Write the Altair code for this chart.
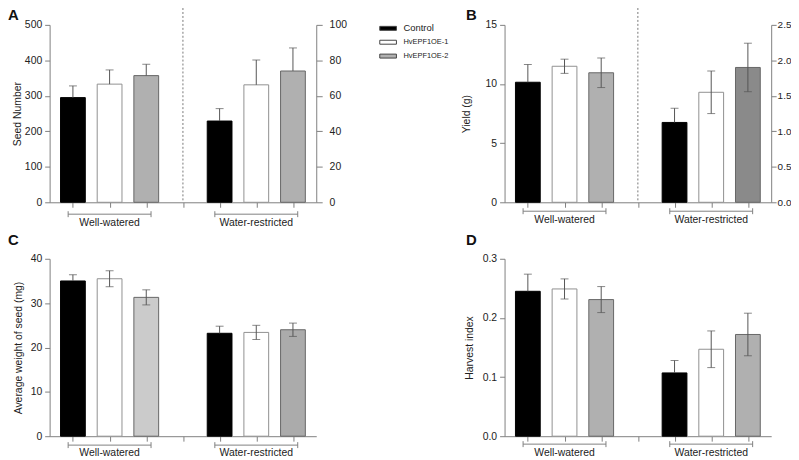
import altair as alt
import pandas as pd

# ---------------- data ----------------
groups = ["Control", "HvEPF1OE-1", "HvEPF1OE-2"]
conditions = ["Well-watered", "Water-restricted"]

seed_mean = [295, 333, 357, 229, 331, 370]
seed_err = [33, 40, 32, 35, 70, 65]
yield_mean = [10.15, 11.5, 10.95, 6.75, 9.3, 11.4]
yield_err = [1.5, 0.6, 1.25, 1.2, 1.8, 2.05]
weight_mean = [35.0, 35.5, 31.3, 23.2, 23.4, 24.0]
weight_err = [1.4, 1.8, 1.7, 1.6, 1.6, 1.5]
hi_mean = [0.245, 0.249, 0.231, 0.107, 0.147, 0.172]
hi_err = [0.029, 0.017, 0.022, 0.021, 0.031, 0.036]

seed_ticks = [0, 100, 200, 300, 400, 500]
seed_right_ticks = [0, 20, 40, 60, 80, 100]
yield_ticks = [0, 5, 10, 15]
yield_right_ticks = [0.0, 0.5, 1.0, 1.5, 2.0, 2.5]
weight_ticks = [0, 10, 20, 30, 40]
hi_ticks = [0.0, 0.1, 0.2, 0.3]

# ---------------- style ----------------
FONT = "Liberation Sans"
W, H = 269, 179
AX = "#808080"
EC = "#555555"
TXT = "#222222"
fills_A = ["#000000", "#ffffff", "#b0b0b0", "#000000", "#ffffff", "#b0b0b0"]
fills_B = ["#000000", "#ffffff", "#b0b0b0", "#000000", "#ffffff", "#8a8a8a"]
fills_C = ["#000000", "#ffffff", "#cbcbcb", "#000000", "#ffffff", "#ababab"]
fills_D = ["#000000", "#ffffff", "#b0b0b0", "#000000", "#ffffff", "#b0b0b0"]
strokes = ["#000000", "#909090", "#666666", "#000000", "#909090", "#666666"]

n_g = len(groups)
n_slots = len(conditions) * (n_g + 1) - 1
slot_centers = [i + 0.5 for i in range(n_slots)]


def make_df(mean, err, fills, both):
    rows = []
    for ci, c in enumerate(conditions):
        for gi, g in enumerate(groups):
            i = ci * n_g + gi
            m, e = mean[i], err[i]
            rows.append(dict(group=g, condition=c, pos=ci * (n_g + 1) + gi + 0.5,
                             mean=m, hi=m + e,
                             lo=(m - e) if (both and g != "Control") else m,
                             fill=fills[i], stroke=strokes[i]))
    return pd.DataFrame(rows)


def panel(mean, err, fills, ytitle, ticks, fmt, letter, lx, ly, tpad, both,
          sep, bdy, tdy, right_ticks=None, right_fmt=None, rtick=5, rpad=3,
          rsize=10.5, legend=False):
    df = make_df(mean, err, fills, both)
    xs = alt.Scale(domain=[0, n_slots], nice=False, zero=False)
    ys = alt.Scale(domain=[0, ticks[-1]], nice=False)
    xaxis = alt.Axis(values=slot_centers, labels=False, title=None, grid=False,
                     tickSize=5, domainColor=AX, tickColor=AX)
    yaxis = alt.Axis(values=ticks, format=fmt, title=ytitle, grid=False,
                     tickSize=5, labelPadding=3, titlePadding=tpad,
                     domainColor=AX, tickColor=AX, labelColor=TXT,
                     labelFont=FONT, labelFontSize=10.5, titleFont=FONT,
                     titleFontSize=10.5, titleFontWeight="normal", titleColor=TXT)

    def X(f):
        return alt.X(f, scale=xs, axis=xaxis)

    def Y(f):
        return alt.Y(f, scale=ys, axis=yaxis)

    base = alt.Chart(df)
    if legend:
        fill = alt.Fill("group:N", scale=alt.Scale(domain=groups, range=fills[:n_g]),
                        legend=alt.Legend(orient="none", legendX=337, legendY=-1,
                                          title=None,
                                          symbolType="M-2.1,-0.5H2.1V0.5H-2.1Z",
                                          symbolSize=64, symbolStrokeColor="#444",
                                          symbolStrokeWidth=1, labelFont=FONT,
                                          labelFontSize=alt.ExprRef("datum.label == 'Control' ? 9.5 : 7.5"),
                                          labelOffset=11, rowPadding=5, padding=0,
                                          labelColor=TXT))
    else:
        fill = alt.Fill("fill:N", scale=None)
    bars = base.mark_bar(width=25, strokeWidth=1).encode(
        x=X("pos:Q"), y=Y("mean:Q"), fill=fill,
        stroke=alt.Stroke("stroke:N", scale=None),
    )
    rule = base.mark_rule(color=EC, strokeWidth=1).encode(
        x=X("pos:Q"), y=Y("lo:Q"), y2="hi:Q")
    cap_hi = base.mark_tick(orient="horizontal", size=8, thickness=1, color=EC).encode(
        x=X("pos:Q"), y=Y("hi:Q"))
    layers = [bars, rule, cap_hi]
    if both:
        cap_lo = base.transform_filter("datum.lo < datum.mean").mark_tick(
            orient="horizontal", size=8, thickness=1, color=EC).encode(
            x=X("pos:Q"), y=Y("lo:Q"))
        layers.append(cap_lo)

    # group brackets
    brows = []
    for ci, c in enumerate(conditions):
        ctr = ci * (n_g + 1) + (n_g - 1) / 2 + 0.5
        brows.append(dict(condition=c, c=ctr, x1=ctr - 1.13, x2=ctr + 1.13))
    bdf = alt.Chart(pd.DataFrame(brows))
    layers.append(bdf.mark_rule(color=AX).encode(
        x=X("x1:Q"), x2="x2:Q", y=alt.value(H + bdy)))
    layers.append(bdf.mark_rule(color=AX).encode(
        x=X("x1:Q"), y=alt.value(H + bdy - 3), y2=alt.value(H + bdy + 3)))
    layers.append(bdf.mark_rule(color=AX).encode(
        x=X("x2:Q"), y=alt.value(H + bdy - 3), y2=alt.value(H + bdy + 3)))
    layers.append(bdf.mark_text(font=FONT, fontSize=10.5, baseline="middle",
                                color=TXT).encode(
        x=X("c:Q"), y=alt.value(H + tdy), text="condition:N"))
    if sep:
        sdf = pd.DataFrame({"s": [n_g + 0.5]})
        layers.append(alt.Chart(sdf).mark_rule(color="#777", strokeDash=[2, 2],
                                               strokeWidth=1).encode(
            x=X("s:Q"), y=alt.value(-17), y2=alt.value(H)))
    layers.append(alt.Chart(pd.DataFrame({"t": [letter]})).mark_text(
        font=FONT, fontSize=15, fontWeight="bold", align="left",
        baseline="alphabetic", color="#111").encode(
        text="t:N", x=alt.value(lx), y=alt.value(ly)))

    inner = alt.layer(*layers)
    if right_ticks is not None:
        right = alt.Chart(pd.DataFrame({"r": right_ticks})).mark_point(opacity=0).encode(
            y=alt.Y("r:Q", scale=alt.Scale(domain=[0, right_ticks[-1]], nice=False),
                    axis=alt.Axis(orient="right", values=right_ticks, format=right_fmt,
                                  title=None, grid=False, tickSize=rtick,
                                  labelPadding=rpad, domainColor=AX, tickColor=AX,
                                  labelColor=TXT, labelFont=FONT, labelFontSize=rsize)))
        ch = alt.layer(inner, right).resolve_scale(y="independent")
    else:
        ch = inner
    return ch.properties(width=W, height=H)


A = panel(seed_mean, seed_err, fills_A, "Seed Number", seed_ticks, "d", "A",
          -42, -5, 2, False, True, 12, 21, seed_right_ticks, "d", 6, 7, legend=True)
B = panel(yield_mean, yield_err, fills_B, "Yield (g)", yield_ticks, "d", "B",
          -39, -5, 14, True, True, 9, 18, yield_right_ticks, ".1f", 5, 1, rsize=10)
C = panel(weight_mean, weight_err, fills_C, "Average weight of seed (mg)", weight_ticks,
          "d", "C", -42, -14, 7, True, False, 9, 17)
D = panel(hi_mean, hi_err, fills_D, "Harvest index", hi_ticks, ".1f", "D",
          -39, -14, 8, True, False, 8, 17)

chart = alt.concat(A, B, C, D, columns=2, spacing={"row": 57, "column": 190},
                   bounds="flush").configure_view(
    stroke=None
).properties(padding={"left": 0, "top": -3, "right": 0, "bottom": 0})

chart.save("out.html", embed_options={"renderer": "svg", "actions": False})
